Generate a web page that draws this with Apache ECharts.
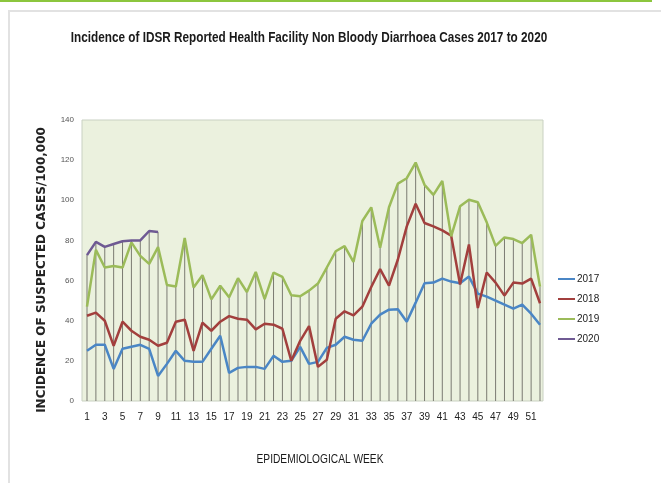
<!DOCTYPE html>
<html>
<head>
<meta charset="utf-8">
<title>Non Bloody Diarrhoea 2017-2020</title>
<script src="https://cdn.jsdelivr.net/npm/echarts@6.0.0/dist/echarts.min.js"></script>
<style>
  html, body { margin: 0; padding: 0; background: #fff; }
  #chart { width: 661px; height: 483px; }
</style>
</head>
<body>
<div id="chart"></div>
<script>
// epidemiological weeks 1..52
var weeks = [];
for (var w = 1; w <= 52; w++) weeks.push(String(w));

var yTicks = [0, 20, 40, 60, 80, 100, 120, 140];

// values (incidence per 100,000)
var y2017 = [25, 28, 28, 16, 26, 27, 28, 26, 12.5, 18.5, 25, 20, 19.5, 19.5, 26, 32.5, 14, 16.5, 17, 17,
  16, 22.5, 19.5, 20, 27, 18.5, 19.5, 26.5, 28, 32, 30.5, 30, 38.5, 43, 45.5, 45.7, 39.5, 49, 58.7, 59,
  61, 59.5, 58.7, 62, 53.5, 52, 50, 48, 46, 48, 43.5, 38];
var y2018 = [42.5, 44, 40, 27.5, 39.5, 35, 32, 30.5, 27.5, 29, 39.5, 40.5, 25, 39, 35, 39.5, 42.3, 41, 40.5, 35.7,
  38.5, 38, 36, 20, 30, 37.3, 17, 20.5, 41, 44.7, 42.7, 47, 56.8, 65.7, 57.5, 70.5, 87, 98.3, 88.7, 87,
  85, 82.4, 58, 78, 46.3, 64, 59, 52.5, 59, 58.5, 61, 48.7];
var y2019 = [47, 75.3, 66.5, 67.3, 66.5, 79, 72.3, 68.3, 76.7, 57.8, 57, 81.2, 56.5, 62.7, 50.6, 57.4, 51.7, 61.2, 54.3, 64.3,
  50.8, 64, 61.8, 52.7, 52.2, 55, 58.5, 66.5, 74.6, 77.2, 69.3, 89.7, 96.5, 76.4, 96.5, 108.3, 111, 118.8, 107.7, 102.7,
  109.6, 82, 97, 100.3, 99, 89, 77.3, 81.5, 80.7, 78.7, 82.8, 57];
var y2020 = [72.7, 79.3, 76.8, 78.2, 79.6, 80, 80, 84.7, 84.2];

var years = ['2017', '2018', '2019', '2020'];
var colors = ['#4a86c5', '#a23f3d', '#9bbb59', '#6f5a93'];

// excel style drop lines: from the axis up to the highest series in each week
var dropTop = weeks.map(function (d, i) {
  return Math.max(y2017[i], y2018[i], y2019[i], y2020[i] == null ? 0 : y2020[i]);
});

var sans = '"Liberation Sans", Arial, sans-serif';

var chart = echarts.init(document.getElementById('chart'));

function lineSeries(name, data, color) {
  return {
    name: name,
    type: 'line',
    data: data,
    symbol: 'none',
    z: 5,
    lineStyle: { width: 2.5, color: color },
    itemStyle: { color: color }
  };
}

var option = {
  backgroundColor: '#ffffff',
  animation: false,
  legend: {
    orient: 'vertical',
    left: 553,
    top: 269,
    data: years,
    icon: 'rect',
    itemWidth: 17,
    itemHeight: 2,
    itemGap: 10,
    textStyle: { fontFamily: sans, fontSize: 10, color: '#222', padding: [0, 0, 0, -3] }
  },
  graphic: [
    { type: 'rect', shape: { x: 0, y: 0, width: 652, height: 2 }, style: { fill: '#8cc63e' }, z: -20 },
    { type: 'rect', shape: { x: 8, y: 10, width: 653, height: 2 }, style: { fill: '#e2e2e2' }, z: -20 },
    { type: 'rect', shape: { x: 8, y: 10, width: 2, height: 473 }, style: { fill: '#e2e2e2' }, z: -20 },
    { type: 'rect', shape: { x: 82, y: 120, width: 461, height: 281 },
      style: { fill: '#ebf1de', stroke: '#c9d1c2', lineWidth: 1 }, z: -10 },
    // chart title, squeezed to the narrow look of the original
    { type: 'text', x: 309, y: 38, scaleX: 0.84, z: 10,
      style: { text: 'Incidence of IDSR Reported Health Facility Non Bloody Diarrhoea Cases 2017 to 2020',
        font: 'bold 14px ' + sans, fill: '#1a1a1a', align: 'center', verticalAlign: 'middle' } },
    // y axis title
    { type: 'text', x: 42, y: 270, rotation: Math.PI / 2, z: 10,
      style: { text: 'INCIDENCE OF SUSPECTED CASES/100,000',
        font: 'bold 12px "DejaVu Sans", sans-serif', fill: '#222', align: 'center', verticalAlign: 'middle' } },
    // x axis title
    { type: 'text', x: 320, y: 460, scaleX: 0.85, z: 10,
      style: { text: 'EPIDEMIOLOGICAL WEEK',
        font: '12px ' + sans, fill: '#1a1a1a', align: 'center', verticalAlign: 'middle' } }
  ],
  grid: { left: 87, right: 121, top: 120, bottom: 82, show: false },
  xAxis: {
    type: 'category',
    data: weeks,
    boundaryGap: false,
    axisLine: { show: false },
    axisTick: { show: false },
    axisLabel: { interval: 1, margin: 11, fontFamily: sans, fontSize: 10, color: '#222' }
  },
  yAxis: {
    type: 'value',
    min: yTicks[0],
    max: yTicks[yTicks.length - 1],
    interval: 20,
    axisLine: { show: false },
    axisTick: { show: false },
    splitLine: { show: false },
    axisLabel: { margin: 13, fontFamily: sans, fontSize: 8, color: '#555' }
  },
  series: [
    {
      name: 'drop',
      type: 'bar',
      data: dropTop,
      barWidth: 1,
      silent: true,
      z: 1,
      itemStyle: { color: '#7a7a72' }
    },
    lineSeries('2017', y2017, colors[0]),
    lineSeries('2018', y2018, colors[1]),
    lineSeries('2019', y2019, colors[2]),
    lineSeries('2020', y2020, colors[3])
  ]
};

chart.setOption(option);
</script>
</body>
</html>
